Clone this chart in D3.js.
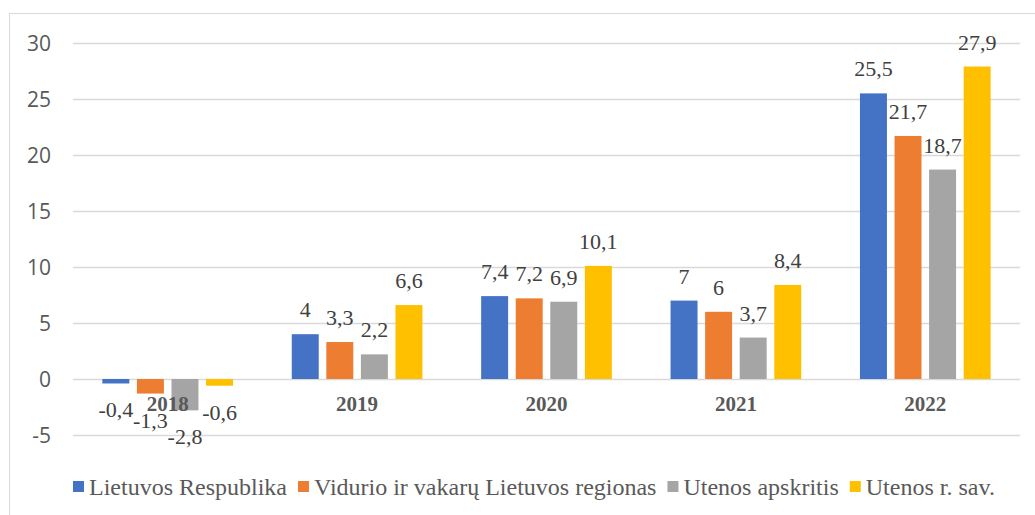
<!DOCTYPE html>
<html>
<head>
<meta charset="utf-8">
<script src="https://cdn.jsdelivr.net/npm/d3@7"></script>
<style>
  body { margin: 0; background: #fff; }
  .serif { font-family: 'Liberation Serif', 'Times New Roman', serif; }
  .sans { font-family: 'Open Sans', sans-serif; }
</style>
</head>
<body>
<div id="chart"></div>
<script>
const years = ['2018', '2019', '2020', '2021', '2022'];
const seriesNames = ['Lietuvos Respublika', 'Vidurio ir vakarų Lietuvos regionas', 'Utenos apskritis', 'Utenos r. sav.'];
const colors = ['#4472c4', '#ed7d31', '#a5a5a5', '#ffc000'];
const lietuvos = [-0.4, 4, 7.4, 7, 25.5];
const vidurio = [-1.3, 3.3, 7.2, 6, 21.7];
const utenosApskr = [-2.8, 2.2, 6.9, 3.7, 18.7];
const utenosSav = [-0.6, 6.6, 10.1, 8.4, 27.9];
const yTicks = [-5, 0, 5, 10, 15, 20, 25, 30];

const seriesValues = [lietuvos, vidurio, utenosApskr, utenosSav];

const width = 1035;
const height = 515;
const margin = { top: 43, bottom: 80, left: 73, right: 15 };

const svg = d3.select('#chart')
  .append('svg')
  .attr('width', width)
  .attr('height', height);

// outer frame
svg.append('rect')
  .attr('x', 9.5).attr('y', 13.5)
  .attr('width', width - 7).attr('height', height)
  .attr('fill', 'none')
  .attr('stroke', '#d9d9d9');

const x0 = d3.scaleBand()
  .domain(years)
  .range([margin.left, width - margin.right]);

const bw = x0.bandwidth();
const x1 = d3.scaleBand()
  .domain(d3.range(seriesNames.length))
  .range([bw * 0.155, bw * 0.845])
  .paddingInner(0.22);

const y = d3.scaleLinear()
  .domain([-5, 30])
  .range([435, 43]);

// gridlines
svg.append('g')
  .selectAll('line')
  .data(yTicks)
  .join('line')
    .attr('x1', margin.left)
    .attr('x2', width - margin.right)
    .attr('y1', d => Math.round(y(d)) + 0.5)
    .attr('y2', d => Math.round(y(d)) + 0.5)
    .attr('stroke', '#d9d9d9')
    .attr('stroke-width', 1.3);

// y labels
svg.append('g')
  .selectAll('text')
  .data(yTicks)
  .join('text')
    .attr('class', 'sans')
    .attr('x', 51)
    .attr('y', d => y(d))
    .attr('dy', '0.36em')
    .attr('text-anchor', 'end')
    .attr('font-size', '21px')
    .attr('fill', '#595959')
    .text(d => d);

const cells = [];
seriesValues.forEach((vals, s) => {
  vals.forEach((v, i) => cells.push({ s, year: years[i], v }));
});

// bars
svg.append('g')
  .selectAll('rect')
  .data(cells)
  .join('rect')
    .attr('x', d => x0(d.year) + x1(d.s))
    .attr('y', d => y(Math.max(0, d.v)))
    .attr('width', x1.bandwidth())
    .attr('height', d => Math.abs(y(d.v) - y(0)))
    .attr('fill', d => colors[d.s]);

// category labels
svg.append('g')
  .selectAll('text')
  .data(years)
  .join('text')
    .attr('class', 'serif')
    .attr('x', d => x0(d) + bw / 2)
    .attr('y', 411)
    .attr('text-anchor', 'middle')
    .attr('font-weight', 'bold')
    .attr('font-size', '21px')
    .attr('fill', '#595959')
    .text(d => d);

// value labels
svg.append('g')
  .selectAll('text')
  .data(cells)
  .join('text')
    .attr('class', 'serif')
    .attr('x', d => x0(d.year) + x1(d.s) + x1.bandwidth() / 2)
    .attr('y', d => d.v >= 0 ? y(d.v) - 17 : y(d.v) + 34)
    .attr('text-anchor', 'middle')
    .attr('font-size', '22px')
    .attr('fill', '#404040')
    .text(d => String(d.v).replace('.', ','));

// legend
const legend = svg.append('g').attr('class', 'serif')
  .attr('font-size', '24px');
let lx = 0;
seriesNames.forEach((name, s) => {
  const g = legend.append('g').attr('transform', `translate(${lx},0)`);
  g.append('rect').attr('x', 0).attr('y', -14).attr('width', 11).attr('height', 11).attr('fill', colors[s]);
  const t = g.append('text').attr('x', 16).attr('y', 0).attr('fill', '#595959').text(name);
  lx += 16 + t.node().getComputedTextLength() + 11;
});
legend.attr('transform', 'translate(73,495)');
</script>
</body>
</html>
